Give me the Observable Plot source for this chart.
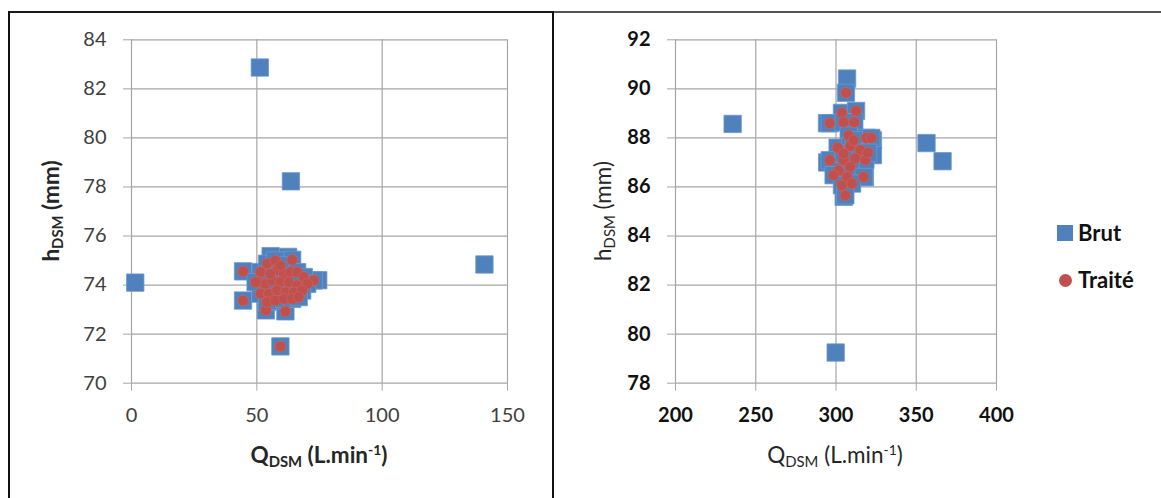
<!DOCTYPE html>
<html><head><meta charset="utf-8">
<script src="https://cdn.jsdelivr.net/npm/d3@7"></script>
<script src="https://cdn.jsdelivr.net/npm/@observablehq/plot@0.6"></script>
<style>
body{margin:0;background:#fff;}
#wrap{position:relative;width:1161px;height:498px;overflow:hidden;font-family:Lato,"Open Sans",sans-serif;background:#fff;}
.panel{position:absolute;top:0;}
.ln{position:absolute;}
.ttl{position:absolute;white-space:nowrap;font-size:22.5px;color:#262626;line-height:1;transform:translate(-50%,-50%);}
.ttl.rot{transform:translate(-50%,-50%) rotate(-90deg);}
.ttl.b{font-weight:bold;}
.ttl sub{font-size:0.66em;vertical-align:-0.3em;line-height:0;}
.ttl sup{font-size:0.62em;vertical-align:0.55em;line-height:0;}
.leg{position:absolute;font-size:22px;font-weight:bold;color:#111;line-height:1;}
</style></head>
<body>
<div id="wrap"></div>
<script>
// ---- Tick labels ----
const leftXTicks = [0, 50, 100, 150];
const leftYTicks = [70, 72, 74, 76, 78, 80, 82, 84];
const rightXTicks = [200, 250, 300, 350, 400];
const rightYTicks = [78, 80, 82, 84, 86, 88, 90, 92];

// ---- Series names ----
const seriesNames = ["Brut", "Traité"];

// ---- Left panel: Brut ----
const leftBrutQ = [1.5, 51.2, 63.6, 140.8, 74.5, 55.5, 62.5,
  44.5, 44.5, 59.4, 53.6, 61.4, 64.1, 72.7, 51.5, 54.1, 57.4, 58.1, 60.8, 63.4, 66.1, 68.7, 70.1,
  50.8, 53.5, 56.1, 59.4, 62.8, 66.1, 51.5, 54.8, 58.1, 61.4, 64.8, 68.1, 54.1, 57.4, 60.8, 64.1, 66.7, 49.5, 55.4, 59.4];
const leftBrutH = [74.1, 82.87, 78.23, 74.84, 74.2, 75.18, 75.15,
  74.56, 73.37, 71.5, 72.97, 72.93, 75.03, 74.19, 74.53, 74.87, 75.0, 74.6, 74.46, 74.53, 74.53, 74.33, 74.05,
  74.12, 74.05, 74.19, 74.12, 74.12, 73.99, 73.65, 73.65, 73.78, 73.71, 73.71, 73.78, 73.31, 73.37, 73.44, 73.44, 73.51, 74.12, 74.46, 74.8];

// ---- Left panel: Traité ----
const leftTraiteQ = [44.5, 44.5, 59.4, 53.6, 61.4, 64.1, 72.7, 51.5, 54.1, 57.4, 58.1, 60.8, 63.4, 66.1, 68.7, 70.1,
  50.8, 53.5, 56.1, 59.4, 62.8, 66.1, 51.5, 54.8, 58.1, 61.4, 64.8, 68.1, 54.1, 57.4, 60.8, 64.1, 66.7, 49.5, 55.4, 59.4];
const leftTraiteH = [74.56, 73.37, 71.5, 72.97, 72.93, 75.03, 74.19, 74.53, 74.87, 75.0, 74.6, 74.46, 74.53, 74.53, 74.33, 74.05,
  74.12, 74.05, 74.19, 74.12, 74.12, 73.99, 73.65, 73.65, 73.78, 73.71, 73.71, 73.78, 73.31, 73.37, 73.44, 73.44, 73.51, 74.12, 74.46, 74.8];

// ---- Right panel: Brut ----
const rightBrutQ = [306.9, 235.6, 299.8, 356.4, 366.4, 294.4, 294.5, 304.8, 323, 323, 318,
  306.2, 303.7, 312.5, 296.1, 304.8, 311.4, 307.9, 318.9, 301.0, 308.9, 315.2, 296.1, 304.8, 312.0, 318.3,
  301.7, 308.9, 298.5, 306.9, 317.2, 303.7, 310.0, 305.8, 304.8, 311.0, 322, 320];
const rightBrutH = [90.42, 88.57, 79.25, 87.79, 87.05, 88.6, 87.0, 85.6, 87.9, 87.3, 86.4,
  89.84, 89.02, 89.1, 88.6, 88.64, 88.64, 88.1, 88.0, 87.6, 87.66, 87.5, 87.09, 87.09, 87.16, 87.1,
  86.68, 86.82, 86.48, 86.41, 86.41, 86.07, 86.14, 85.66, 87.36, 87.9, 88.0, 87.4];

// ---- Right panel: Traité ----
const rightTraiteQ = [306.2, 303.7, 312.5, 296.1, 304.8, 311.4, 307.9, 318.9, 301.0, 308.9, 315.2, 296.1, 304.8, 312.0, 318.3,
  301.7, 308.9, 298.5, 306.9, 317.2, 303.7, 310.0, 305.8, 304.8, 311.0, 322, 320];
const rightTraiteH = [89.84, 89.02, 89.1, 88.6, 88.64, 88.64, 88.1, 88.0, 87.6, 87.66, 87.5, 87.09, 87.09, 87.16, 87.1,
  86.68, 86.82, 86.48, 86.41, 86.41, 86.07, 86.14, 85.66, 87.36, 87.9, 88.0, 87.4];

// ---- Styles ----
const BLUE = "#4F81BD", RED = "#C0504D", GRID = "#a6a6a6";
const zip = (qs, hs) => qs.map((q, i) => ({q, h: hs[i]}));

function panel({xDomain, yDomain, xTicks, yTicks, brut, traite, bold, width, mLeft, mRight, labelColor}) {
  return Plot.plot({
    width, height: 498,
    marginLeft: mLeft, marginRight: mRight, marginTop: 39.3, marginBottom: 115.3,
    x: {domain: xDomain, label: null},
    y: {domain: yDomain, label: null},
    style: {fontFamily: "Lato, 'Open Sans', sans-serif", fontSize: "20px", fontWeight: bold ? "bold" : "normal", background: "transparent", overflow: "visible"},
    marks: [
      Plot.gridX(xTicks, {stroke: GRID, strokeOpacity: 1, strokeWidth: 1.2}),
      Plot.gridY(yTicks, {stroke: GRID, strokeOpacity: 1, strokeWidth: 1.2}),
      Plot.axisX(xTicks, {tickSize: 8, tickPadding: 17, stroke: GRID, fill: labelColor, label: null, tickFormat: d => String(d)}),
      Plot.axisY(yTicks, {tickSize: 8, tickPadding: 17, stroke: GRID, fill: labelColor, label: null, tickFormat: d => String(d)}),
      Plot.dot(brut, {x: "q", y: "h", symbol: "square", r: 9.8, fill: BLUE, stroke: "#6f98cc", strokeWidth: 0.8}),
      Plot.dot(traite, {x: "q", y: "h", symbol: "circle", r: 5.4, fill: RED, stroke: "#cf6663", strokeWidth: 0.6})
    ]
  });
}

const wrap = document.getElementById("wrap");

const left = panel({xDomain: [0, 150], yDomain: [70, 84], xTicks: leftXTicks, yTicks: leftYTicks,
  brut: zip(leftBrutQ, leftBrutH), traite: zip(leftTraiteQ, leftTraiteH), bold: false,
  width: 553, mLeft: 131, mRight: 46, labelColor: "#404040"});
left.classList.add("panel"); left.style.left = "0px";
wrap.appendChild(left);

const right = panel({xDomain: [200, 400], yDomain: [78, 92], xTicks: rightXTicks, yTicks: rightYTicks,
  brut: zip(rightBrutQ, rightBrutH), traite: zip(rightTraiteQ, rightTraiteH), bold: true,
  width: 608, mLeft: 122, mRight: 165, labelColor: "#111"});
right.classList.add("panel"); right.style.left = "553px";
wrap.appendChild(right);

// ---- Frame lines ----
function line(x, y, w, h, c) {
  const d = document.createElement("div");
  d.className = "ln";
  Object.assign(d.style, {left: x + "px", top: y + "px", width: w + "px", height: h + "px", background: c});
  wrap.appendChild(d);
}
line(8, 11, 546, 2, "#1a1a1a");
line(554, 11, 607, 2, "#555");
line(8, 11, 2, 487, "#111");
line(552, 11, 2, 487, "#111");

// ---- Axis titles ----
const xTitle = "Q<sub>DSM</sub> (L.min<sup>-1</sup>)";
const yTitle = "h<sub>DSM</sub> (mm)";
function title(html, x, y, cls) {
  const d = document.createElement("div");
  d.className = "ttl " + cls;
  d.innerHTML = html;
  d.style.left = x + "px"; d.style.top = y + "px";
  wrap.appendChild(d);
}
title(xTitle, 319, 455, "b");
title(yTitle, 51, 211, "b rot");
title(xTitle, 835, 455, "");
title(yTitle, 603, 211, "rot");

// ---- Legend ----
const legItems = [
  {name: seriesNames[0], y: 233, mk: `<div style="position:absolute;left:1057px;top:225px;width:16px;height:16px;background:${BLUE}"></div>`},
  {name: seriesNames[1], y: 280, mk: `<div style="position:absolute;left:1058.5px;top:273.5px;width:13px;height:13px;border-radius:50%;background:${RED}"></div>`}
];
legItems.forEach(it => {
  wrap.insertAdjacentHTML("beforeend", it.mk);
  const t = document.createElement("div");
  t.className = "leg";
  t.textContent = it.name;
  t.style.left = "1078px"; t.style.top = (it.y - 11) + "px";
  wrap.appendChild(t);
});
</script>
</body></html>
